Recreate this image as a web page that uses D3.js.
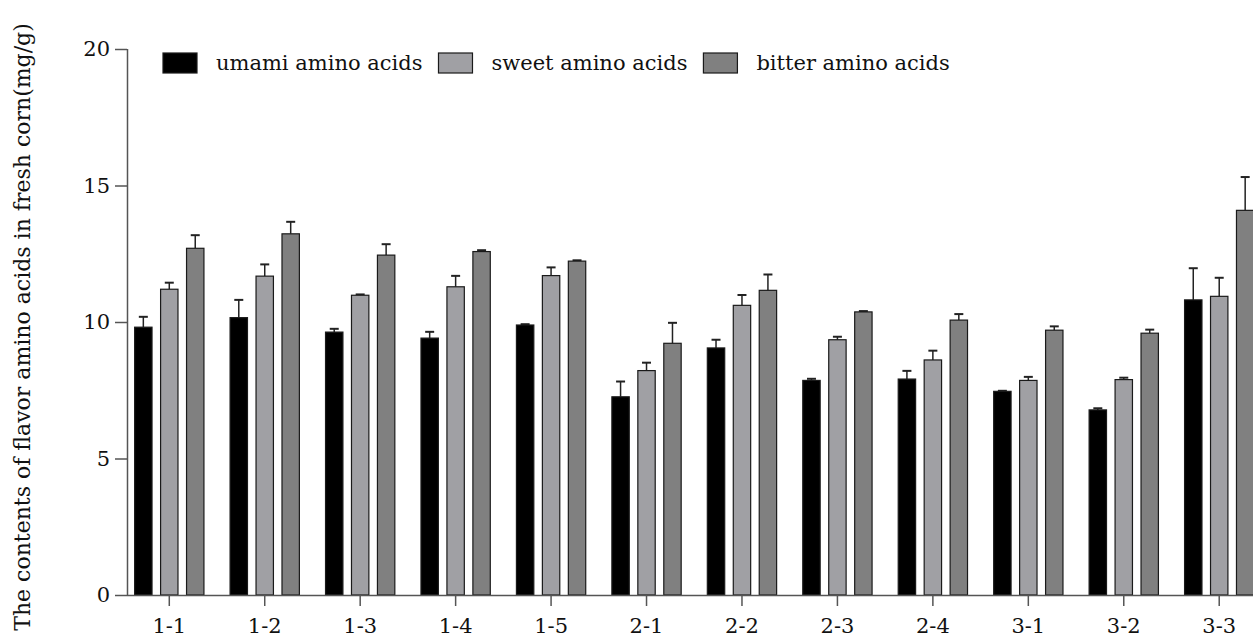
<!DOCTYPE html>
<html>
<head>
<meta charset="utf-8">
<script src="https://cdn.jsdelivr.net/npm/d3@7"></script>
<style>
  body { margin: 0; background: #fff; }
  svg { display: block; font-family: "DejaVu Serif", serif; }
</style>
</head>
<body>
<div id="chart"></div>
<script>
const groups = ['1-1', '1-2', '1-3', '1-4', '1-5', '2-1', '2-2', '2-3', '2-4', '3-1', '3-2', '3-3'];
const seriesNames = ['umami amino acids', 'sweet amino acids', 'bitter amino acids'];
const seriesColors = ['#000000', '#a0a0a4', '#808080'];

const umami = [9.81, 10.16, 9.63, 9.41, 9.89, 7.26, 9.05, 7.86, 7.91, 7.46, 6.78, 10.81];
const umamiErr = [0.38, 0.65, 0.12, 0.23, 0.03, 0.56, 0.30, 0.06, 0.30, 0.02, 0.06, 1.16];
const sweet = [11.20, 11.68, 10.98, 11.29, 11.70, 8.22, 10.61, 9.35, 8.61, 7.86, 7.89, 10.94];
const sweetErr = [0.24, 0.43, 0.03, 0.40, 0.30, 0.29, 0.38, 0.11, 0.34, 0.13, 0.07, 0.68];
const bitter = [12.70, 13.23, 12.45, 12.58, 12.23, 9.22, 11.16, 10.37, 10.07, 9.70, 9.59, 14.09];
const bitterErr = [0.48, 0.44, 0.40, 0.05, 0.03, 0.75, 0.58, 0.03, 0.22, 0.14, 0.13, 1.22];

const yTicks = [0, 5, 10, 15, 20];
const yLabel = 'The contents of flavor amino acids in fresh corn(mg/g)';

const values = [umami, sweet, bitter];
const errors = [umamiErr, sweetErr, bitterErr];

const width = 1253;
const height = 639;
const axisColor = '#555';

const svg = d3.select('#chart')
  .append('svg')
  .attr('width', width)
  .attr('height', height);

const x0 = d3.scaleBand()
  .domain(groups)
  .range([127, 1261.5])
  .paddingInner(0.274)
  .paddingOuter(0.08);

const x1 = d3.scaleBand()
  .domain(seriesNames)
  .range([0, x0.bandwidth()])
  .paddingInner(0.33);

const y = d3.scaleLinear()
  .domain([0, 20])
  .range([595, 49]);

// flatten to one record per bar
const bars = [];
groups.forEach((g, gi) => {
  seriesNames.forEach((s, si) => {
    bars.push({ group: g, series: s, si: si, value: values[si][gi], err: errors[si][gi] });
  });
});

const barG = svg.append('g');

// error bars (drawn under the bars so the stem starts at the bar top)
const errG = barG.selectAll('.err')
  .data(bars)
  .enter().append('g')
  .attr('class', 'err')
  .attr('stroke', '#222')
  .attr('stroke-width', 1.5);

errG.append('line')
  .attr('x1', d => x0(d.group) + x1(d.series) + x1.bandwidth() / 2)
  .attr('x2', d => x0(d.group) + x1(d.series) + x1.bandwidth() / 2)
  .attr('y1', d => y(d.value))
  .attr('y2', d => y(d.value + d.err));

errG.append('line')
  .attr('x1', d => x0(d.group) + x1(d.series) + x1.bandwidth() / 2 - 4.5)
  .attr('x2', d => x0(d.group) + x1(d.series) + x1.bandwidth() / 2 + 4.5)
  .attr('y1', d => y(d.value + d.err))
  .attr('y2', d => y(d.value + d.err))
  .attr('stroke-width', 2);

barG.selectAll('.bar')
  .data(bars)
  .enter().append('rect')
  .attr('class', 'bar')
  .attr('x', d => x0(d.group) + x1(d.series))
  .attr('y', d => y(d.value))
  .attr('width', x1.bandwidth())
  .attr('height', d => y(0) - y(d.value))
  .attr('fill', d => seriesColors[d.si])
  .attr('stroke', '#1a1a1a')
  .attr('stroke-width', 1.2);

// y axis
const yAxis = svg.append('g')
  .attr('transform', 'translate(127,0)')
  .call(d3.axisLeft(y).tickValues(yTicks).tickSize(12).tickPadding(5).tickFormat(d3.format('d')));

// x axis
const xAxis = svg.append('g')
  .attr('transform', `translate(0,${y(0)})`)
  .call(d3.axisBottom(x0).tickSize(11).tickPadding(12).tickSizeOuter(0));

xAxis.select('.domain').attr('d', `M127,0.5H${width}`);

[yAxis, xAxis].forEach(a => {
  a.select('.domain').attr('stroke', axisColor).attr('stroke-width', 1.5);
  a.selectAll('.tick line').attr('stroke', axisColor).attr('stroke-width', 1.5);
  a.selectAll('.tick text')
    .attr('fill', '#111')
    .style('font-family', '"DejaVu Serif", serif')
    .style('font-size', '21px');
});
yAxis.select('.domain').attr('d', `M0.5,${y(20)}V${y(0)}`);

// y label
svg.append('text')
  .attr('transform', `translate(30,${327}) rotate(-90)`)
  .attr('text-anchor', 'middle')
  .attr('fill', '#111')
  .style('font-size', '22px')
  .text(yLabel);

// legend, laid out left to right
const legend = svg.append('g').attr('transform', 'translate(163,53)');
let lx = 0;
seriesNames.forEach((name, i) => {
  legend.append('rect')
    .attr('x', lx)
    .attr('y', 0)
    .attr('width', 34)
    .attr('height', 20)
    .attr('fill', seriesColors[i])
    .attr('stroke', '#1a1a1a')
    .attr('stroke-width', 1.2);
  const t = legend.append('text')
    .attr('x', lx + 53)
    .attr('y', 17)
    .attr('fill', '#111')
    .style('font-size', '21px')
    .text(name);
  lx += 53 + t.node().getComputedTextLength() + 16;
});
</script>
</body>
</html>
